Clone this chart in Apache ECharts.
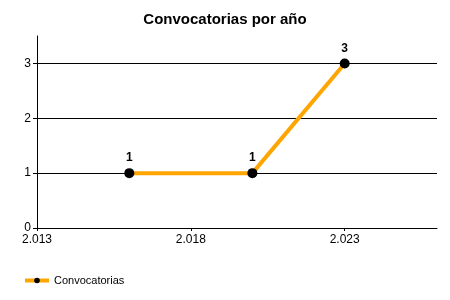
<!DOCTYPE html>
<html><head><meta charset="utf-8">
<script src="https://cdn.jsdelivr.net/npm/echarts@6/dist/echarts.min.js"></script>
<style>html,body{margin:0;padding:0;background:#fff}#c{width:450px;height:300px}</style>
</head><body><div id="c"></div>
<script>
var years = [2016, 2020, 2023];
var counts = [1, 1, 3];
var xTicks = [2013, 2018, 2023];
var yTicks = [0, 1, 2, 3];
var seriesName = 'Convocatorias';
var titleText = 'Convocatorias por año';

var chart = echarts.init(document.getElementById('c'));
var font = 'Liberation Sans, Arial, sans-serif';
chart.setOption({
  animation: false,
  title: {text: titleText, left: 'center', top: 7,
    textStyle: {fontFamily: font, fontSize: 15, fontWeight: 'bold', color: '#000'}},
  legend: {left: 18, top: 270, itemWidth: 24, itemHeight: 7, itemGap: 5,
    lineStyle: {width: 4},
    textStyle: {fontFamily: font, fontSize: 11, color: '#000'},
    data: [seriesName]},
  grid: {left: 37, right: 13, top: 36, bottom: 72, containLabel: false},
  xAxis: {type: 'value', min: 2013, max: 2026, interval: 5,
    axisLine: {show: true, onZero: false, lineStyle: {color: '#000', width: 1}},
    axisTick: {show: true, length: 3, lineStyle: {color: '#000'}, customValues: xTicks},
    axisLabel: {fontFamily: font, fontSize: 12, color: '#000', margin: 6, customValues: xTicks,
      formatter: function(v){ var s = String(v); return s.slice(0,1) + '.' + s.slice(1); }},
    splitLine: {show: false}},
  yAxis: {type: 'value', min: 0, max: 3.5, interval: 1,
    axisLine: {show: true, lineStyle: {color: '#000', width: 1}},
    axisTick: {show: true, length: 4, lineStyle: {color: '#000'}, customValues: yTicks},
    axisLabel: {fontFamily: font, fontSize: 12, color: '#000', margin: 6, customValues: yTicks},
    splitLine: {show: true, lineStyle: {color: '#000', width: 1}}},
  series: [{
    name: seriesName, type: 'line',
    data: years.map(function(y, i){ return [y, counts[i]]; }),
    symbol: 'circle', symbolSize: 10,
    lineStyle: {color: '#FFA500', width: 4},
    itemStyle: {color: '#000'},
    label: {show: true, position: 'top', distance: 4, fontFamily: font, fontSize: 12, fontWeight: 'bold', color: '#000'}
  }]
});
</script></body></html>
